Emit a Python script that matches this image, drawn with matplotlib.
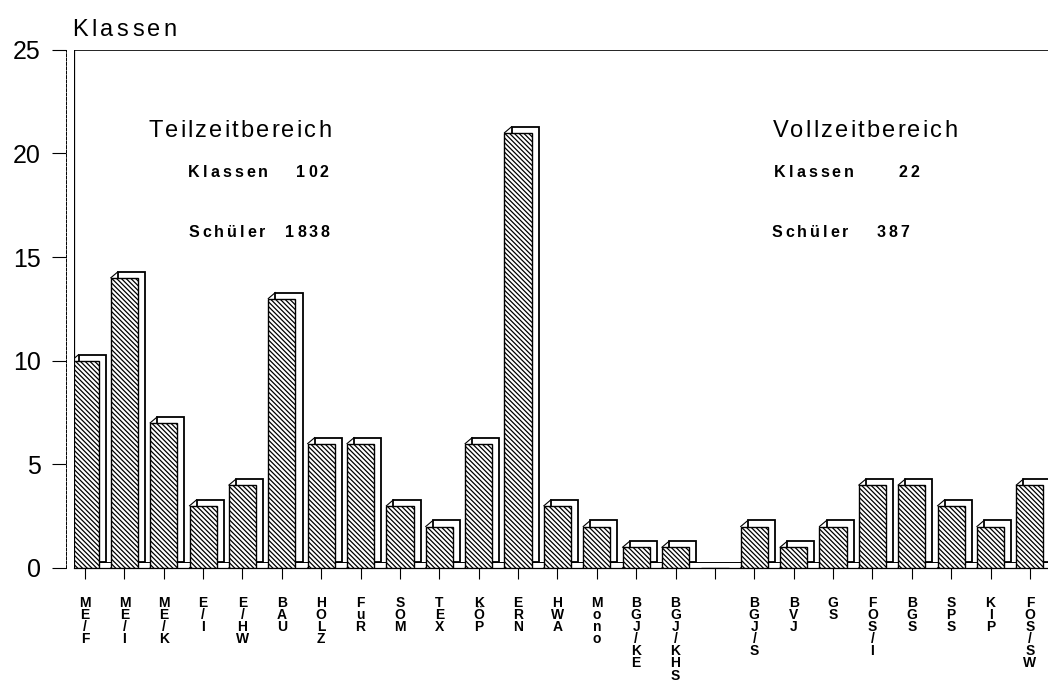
import numpy as np
import matplotlib
matplotlib.use("Agg")
import matplotlib.pyplot as plt
from matplotlib.patches import Polygon, Rectangle
from matplotlib.transforms import offset_copy

plt.rcParams['font.family'] = ['Liberation Sans', 'DejaVu Sans']
plt.rcParams['hatch.linewidth'] = 0.9

# Klassen je Schulform (leere Position trennt Teilzeit / Vollzeit)
labels = ["ME/F", "ME/I", "ME/K", "E/I", "E/HW", "BAU", "HOLZ", "FuR", "SOM", "TEX",
          "KÖP", "ERN", "HWA", "Mono", "BGJ/KE", "BGJ/KHS", "",
          "BGJ/S", "BVJ", "GS", "FOS/I", "BGS", "SPS", "KIP", "FOS/SW"]
klassen = [10, 14, 7, 3, 4, 13, 6, 6, 3, 2, 6, 21, 3, 2, 1, 1, 0,
           2, 1, 2, 4, 4, 3, 2, 4]

teil_klassen, teil_schueler = 102, 1838
voll_klassen, voll_schueler = 22, 387

x = np.arange(len(labels))
width = 0.69
dx, dy = 0.18, 0.29  # Tiefe fuer den 3D-Effekt

fig = plt.figure(figsize=(10.48, 6.81), dpi=100)
ax = fig.add_axes([0.0706, 0.166, 0.9294, 0.7608])
renderer = fig.canvas.get_renderer()


# Text mit gesperrter Schrift (wie im Original), Zeichen fuer Zeichen
def spaced_text(x0, y0, s, extra_px, va='center', **kw):
    off = 0.0
    for ch in s:
        t = ax.text(x0, y0, ch, transform=offset_copy(ax.transData, fig, x=off, y=0, units='dots'),
                    ha='left', va=va, clip_on=False, **kw)
        if ch == ' ':
            w = ax.text(0, 0, 'n', alpha=0, **kw).get_window_extent(renderer).width * 0.55
        else:
            w = t.get_window_extent(renderer).width
        off += w + extra_px


# Boden
ax.add_patch(Polygon([[-0.28, 0], [x[-1] + 1, 0], [x[-1] + 1, dy], [-0.28 + dx, dy]],
                     closed=True, facecolor='white', edgecolor='black', lw=0.7, zorder=1))

for xi, v in zip(x, klassen):
    if v == 0:
        continue
    left = xi - width / 2
    # Rueckseite / Schatten
    ax.add_patch(Rectangle((left + dx, dy), width, v, facecolor='white',
                           edgecolor='black', lw=1.3, zorder=2))
    ax.plot([left, left + dx], [v, v + dy], color='black', lw=0.8, zorder=2)
    ax.plot([left, left + dx], [0, dy], color='black', lw=0.8, zorder=2)

ax.bar(x, klassen, width=width, facecolor='white', edgecolor='black', hatch='\\\\\\\\\\\\\\',
       lw=1.0, zorder=3)

ax.set_xlim(-0.28, 24.46)
ax.set_ylim(0, 25)
ax.set_yticks([0, 5, 10, 15, 20, 25])
ax.tick_params(axis='y', labelsize=18, length=10, width=0.8, pad=8)
ax.set_xticks(x)
ax.set_xticklabels(["\n".join(l) for l in labels], fontsize=10, fontweight='bold',
                   linespacing=0.83, va='top')
ax.tick_params(axis='x', length=8, width=0.8, pad=12)

ax.spines['right'].set_visible(False)
ax.spines['top'].set_linewidth(0.6)
ax.spines['left'].set_position(('outward', 6))
ax.spines['left'].set_linestyle((0, (3, 1.5)))
ax.spines['left'].set_linewidth(0.7)
ax.spines['bottom'].set_linewidth(0.9)
ax.axvline(-0.28, color='black', lw=0.9, zorder=4)

spaced_text(-0.33, 25.65, "Klassen", 3.5, va='baseline', fontsize=17)

spaced_text(1.6, 21.1, "Teilzeitbereich", 2.2, fontsize=17)
spaced_text(2.62, 19.06, f"Klassen   {teil_klassen}", 3.0, fontsize=11.5, fontweight='bold')
spaced_text(2.62, 16.2, f"Schüler  {teil_schueler}", 3.0, fontsize=11.5, fontweight='bold')

spaced_text(17.46, 21.1, "Vollzeitbereich", 2.2, fontsize=17)
spaced_text(17.5, 19.06, f"Klassen     {voll_klassen}", 3.0, fontsize=11.5, fontweight='bold')
spaced_text(17.43, 16.2, f"Schüler   {voll_schueler}", 3.0, fontsize=11.5, fontweight='bold')

fig.savefig("out.png", dpi=100)
